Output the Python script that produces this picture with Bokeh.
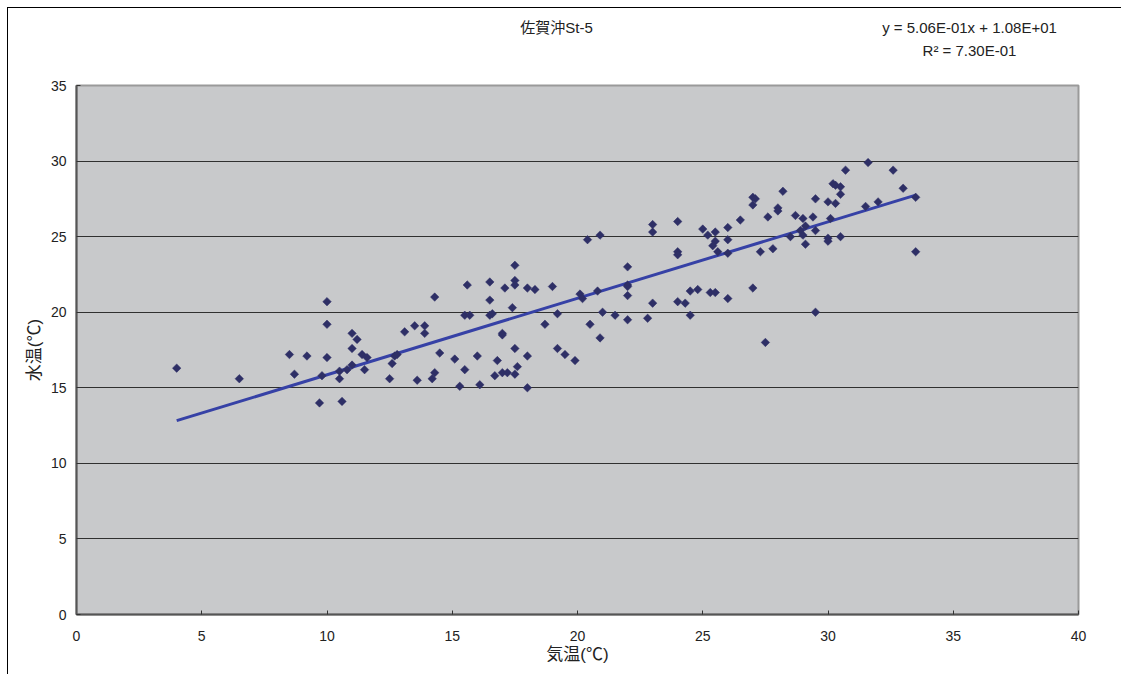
import numpy as np
from bokeh.plotting import figure
from bokeh.models import Range1d, FixedTicker, LinearAxis
from bokeh.embed import file_html
from bokeh.resources import INLINE

# ---- data ----
air_temp = [
    4.0, 6.5, 8.5, 8.7, 9.2, 9.7, 9.8, 10.0, 10.0, 10.0,
    10.5, 10.5, 10.6, 10.8, 11.0, 11.0, 11.2, 11.0, 11.4, 11.6,
    11.5, 12.5, 12.6, 12.7, 12.8, 13.1, 13.5, 13.6, 13.9, 13.9,
    14.2, 14.3, 14.3, 14.5, 15.1, 15.3, 15.5, 15.5, 15.7, 15.6,
    16.0, 16.1, 16.5, 16.5, 16.5, 16.6, 16.7, 16.8, 17.0, 17.0,
    17.0, 17.2, 17.1, 17.4, 17.5, 17.5, 17.5, 17.5, 17.5, 17.6,
    18.0, 18.0, 18.0, 18.3, 18.7, 19.0, 19.2, 19.2, 19.5, 19.9,
    20.1, 20.2, 20.4, 20.5, 20.8, 20.9, 20.9, 21.0, 21.5, 22.0,
    22.0, 22.0, 22.0, 22.0, 22.8, 23.0, 23.0, 23.0, 24.0, 24.0,
    24.0, 24.0, 24.3, 24.5, 24.8, 24.5, 25.3, 25.5, 25.0, 25.2,
    25.5, 25.5, 25.4, 25.6, 26.0, 26.0, 26.0, 26.0, 26.5, 27.0,
    27.0, 27.1, 27.3, 27.6, 27.8, 28.0, 28.0, 27.0, 27.5, 28.2,
    28.5, 28.7, 28.9, 29.0, 29.0, 29.1, 29.1, 29.4, 29.5, 29.5,
    29.5, 30.0, 30.0, 30.1, 30.5, 30.0, 30.3, 30.2, 30.3, 30.5,
    30.5, 30.7, 31.6, 31.5, 32.0, 32.6, 33.0, 33.5, 33.5,
]
water_temp = [
    16.3, 15.6, 17.2, 15.9, 17.1, 14.0, 15.8, 20.7, 19.2, 17.0,
    15.6, 16.1, 14.1, 16.2, 16.5, 18.6, 18.2, 17.6, 17.2, 17.0,
    16.2, 15.6, 16.6, 17.1, 17.2, 18.7, 19.1, 15.5, 19.1, 18.6,
    15.6, 16.0, 21.0, 17.3, 16.9, 15.1, 16.2, 19.8, 19.8, 21.8,
    17.1, 15.2, 22.0, 20.8, 19.8, 19.9, 15.8, 16.8, 18.6, 18.5,
    16.0, 16.0, 21.6, 20.3, 23.1, 22.1, 21.8, 17.6, 15.9, 16.4,
    21.6, 17.1, 15.0, 21.5, 19.2, 21.7, 19.9, 17.6, 17.2, 16.8,
    21.2, 20.9, 24.8, 19.2, 21.4, 25.1, 18.3, 20.0, 19.8, 23.0,
    21.8, 21.7, 21.1, 19.5, 19.6, 20.6, 25.8, 25.3, 26.0, 24.0,
    23.8, 20.7, 20.6, 21.4, 21.5, 19.8, 21.3, 21.3, 25.5, 25.1,
    25.3, 24.7, 24.4, 24.0, 25.6, 24.8, 23.9, 20.9, 26.1, 27.1,
    27.6, 27.5, 24.0, 26.3, 24.2, 26.9, 26.7, 21.6, 18.0, 28.0,
    25.0, 26.4, 25.4, 26.2, 25.1, 24.5, 25.7, 26.3, 25.4, 27.5,
    20.0, 24.9, 24.7, 26.2, 25.0, 27.3, 27.2, 28.5, 28.4, 28.3,
    27.8, 29.4, 29.9, 27.0, 27.3, 29.4, 28.2, 27.6, 24.0,
]

# regression from the chart's trendline equation
slope = 0.506
intercept = 10.8
r_squared = 0.730

title_text = "佐賀沖St-5"
eq_line1 = "y = 5.06E-01x + 1.08E+01"
eq_line2 = "R² = 7.30E-01"
x_label = "気温(℃)"
y_label = "水温(℃)"
x_ticks = [0, 5, 10, 15, 20, 25, 30, 35, 40]
y_ticks = [0, 5, 10, 15, 20, 25, 30, 35]

FONT = "'Liberation Sans', 'Noto Sans CJK JP', sans-serif"
TXT = "#222222"

p = figure(
    width=1114, height=667,
    output_backend="svg", toolbar_location=None,
    x_range=Range1d(0, 40), y_range=Range1d(0, 35),
    min_border_left=68, min_border_right=44,
    min_border_top=77, min_border_bottom=61,
)
p.styles = {"margin-left": "8px", "margin-top": "8px",
            "box-shadow": "-1px -1px 0 0 #000"}

p.background_fill_color = "#C8C9CB"
p.border_fill_color = "white"
p.outline_line_color = "#9a9a9a"
p.outline_line_width = 2

# grid
p.xgrid.visible = False
p.ygrid.ticker = FixedTicker(ticks=y_ticks)
p.ygrid.grid_line_color = "#303030"
p.ygrid.grid_line_width = 1

# axes
for ax, ticks in ((p.xaxis[0], x_ticks), (p.yaxis[0], y_ticks)):
    ax.ticker = FixedTicker(ticks=ticks)
    ax.axis_line_color = "#555555"
    ax.axis_line_width = 2
    ax.major_tick_in = 4
    ax.major_tick_out = 0
    ax.major_tick_line_color = "#333333"
    ax.minor_tick_line_color = None
    ax.major_label_text_font = FONT
    ax.major_label_text_font_size = "14px"
    ax.major_label_text_color = TXT
    ax.axis_label_text_font = FONT
    ax.axis_label_text_font_size = "17px"
    ax.axis_label_text_font_style = "normal"
    ax.axis_label_text_color = TXT

p.xaxis.axis_label = x_label
p.yaxis.axis_label = y_label
p.xaxis.major_label_standoff = 16
p.xaxis.axis_label_standoff = 1
p.yaxis.major_label_standoff = 10
p.yaxis.axis_label_standoff = 4

# header texts: bare axes above the plot, positioned on a page-pixel range
p.extra_x_ranges = {"text_px": Range1d(76, 1078)}
title_pos = 556
eq_pos = 969


def text_axis(ticks, labels, standoff, size):
    ax = LinearAxis(x_range_name="text_px", ticker=FixedTicker(ticks=ticks),
                    major_label_overrides=dict(zip(ticks, labels)))
    ax.axis_line_color = None
    ax.major_tick_line_color = None
    ax.minor_tick_line_color = None
    ax.major_tick_in = 0
    ax.major_tick_out = 0
    ax.major_label_standoff = standoff
    ax.major_label_text_font = FONT
    ax.major_label_text_font_size = size
    ax.major_label_text_color = TXT
    return ax


p.add_layout(text_axis([eq_pos], [eq_line2], 27, "15px"), "above")
p.add_layout(text_axis([title_pos, eq_pos], [title_text, eq_line1], 3, "15px"), "above")

# trendline
x_min, x_max = min(air_temp), max(air_temp)
line_x = [x_min, x_max]
line_y = [slope * v + intercept for v in line_x]
p.line(line_x, line_y, line_color="#3641A6", line_width=3)

# points
p.scatter(air_temp, water_temp, marker="square", size=6, angle=np.pi / 4,
          fill_color="#2E2F66", line_color="#2E2F66", line_width=0.5)

open("out.html", "w").write(file_html(p, INLINE))
